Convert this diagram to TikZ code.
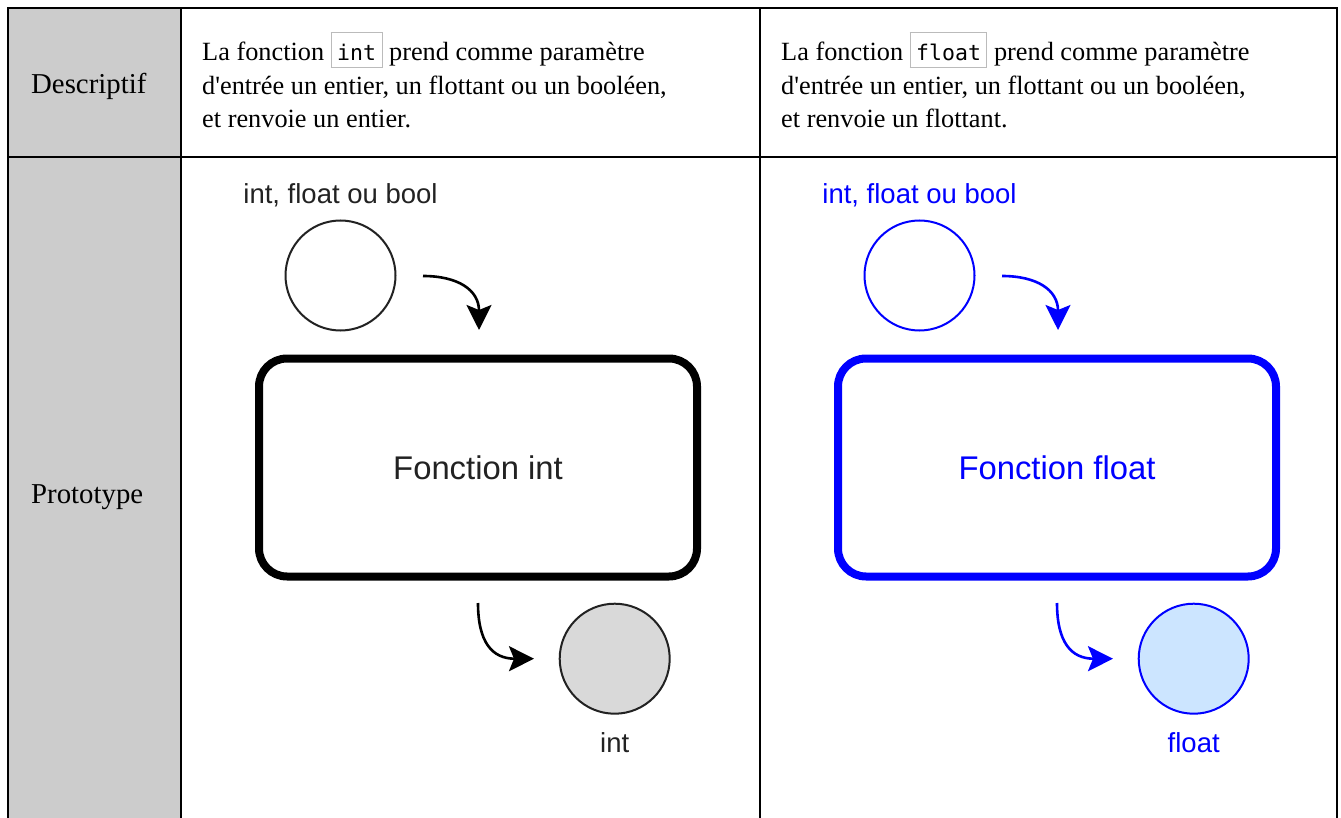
\documentclass[tikz,border=0pt]{standalone}
\usepackage{fontspec}
\setmainfont{Liberation Serif}[Ligatures=TeXOff]
\newfontfamily\diagfont{Liberation Sans}
\newfontfamily\codefont{DejaVu Sans Mono}
\usetikzlibrary{arrows.meta}
\definecolor{hdr}{HTML}{CCCCCC}
\definecolor{boxgray}{HTML}{BBBBBB}
\definecolor{pblue}{HTML}{0000FF}
\definecolor{lblue}{HTML}{CCE5FF}
\definecolor{lgray}{HTML}{D9D9D9}
\definecolor{dtext}{HTML}{222222}
\newcommand{\codebox}[1]{{\setlength{\fboxsep}{5.5pt}\setlength{\fboxrule}{1pt}\fcolorbox{boxgray}{white}{\rule[-1pt]{0pt}{23pt}\codefont\fontsize{21.5}{24}\selectfont #1}}}
\begin{document}
\begin{tikzpicture}[x=1pt,y=-1pt,
  grid/.style={line width=1.3pt, black},
  txt/.style={anchor=base west, inner sep=0pt, font=\fontsize{26.3}{34}\selectfont},
  rowlbl/.style={anchor=base west, inner sep=0pt, font=\fontsize{28.8}{34}\selectfont},
  lbl/.style={anchor=base, inner sep=0pt, font=\diagfont\fontsize{27.5}{30}\selectfont},
  circ/.style={circle, draw, line width=2pt, minimum size=110pt, inner sep=0pt},
  fbox/.style={rectangle, draw, rounded corners=28pt, line width=8pt, minimum width=438pt, minimum height=218pt, inner sep=0pt, font=\diagfont\fontsize{32.8}{36}\selectfont},
  arr/.style={line width=2.6pt, -{Stealth[length=25pt, width=25pt, inset=5pt]}}
]
\useasboundingbox (0,0) rectangle (1341,818);
\fill[white] (0,0) rectangle (1341,818);
% table
\fill[hdr] (8,8) rectangle (181,818);
\draw[grid] (8,818) -- (8,8) -- (1337,8) -- (1337,818);
\draw[grid] (8,157) -- (1337,157);
\draw[grid] (181,8) -- (181,818);
\draw[grid] (760,8) -- (760,818);
% row labels
\node[rowlbl] (rdesc) at (31,94) {Descriptif};
\node[rowlbl] (rproto) at (31,503) {Prototype};
% descriptions
\node[txt] (d1a) at (202,60.7) {La fonction \codebox{int} prend comme paramètre};
\node[txt] (d1b) at (202,94.5) {d'entrée un entier, un flottant ou un booléen,};
\node[txt] (d1c) at (202,128) {et renvoie un entier.};
\node[txt] (d2a) at (781,60.7) {La fonction \codebox{float} prend comme paramètre};
\node[txt] (d2b) at (781,94.5) {d'entrée un entier, un flottant ou un booléen,};
\node[txt] (d2c) at (781,128) {et renvoie un flottant.};
% left diagram
\node[lbl, text=dtext] (inlblL) at (340.5,204) {int, float ou bool};
\node[circ, draw=dtext] (inL) at (340.5,275.5) {};
\node[fbox, text=dtext] (fL) at (478,467.5) {Fonction int};
\node[circ, draw=dtext, fill=lgray] (outL) at (614.7,658.7) {};
\node[lbl, text=dtext] (outlblL) at (614.7,752.5) {int};
\coordinate (a1s) at (423,276);
\coordinate (a1e) at (479,330);
\coordinate (a2s) at (478,603);
\coordinate (a2e) at (534,658.7);
\draw[arr] (a1s) .. controls (458,276) and (479,290) .. (a1e);
\draw[arr] (a2s) .. controls (478,642) and (492,658.7) .. (a2e);
% right diagram
\node[lbl, text=pblue] (inlblR) at (919.5,204) {int, float ou bool};
\node[circ, draw=pblue] (inR) at (919.5,275.5) {};
\node[fbox, draw=pblue, text=pblue] (fR) at (1057,467.5) {Fonction float};
\node[circ, draw=pblue, fill=lblue] (outR) at (1193.7,658.7) {};
\node[lbl, text=pblue] (outlblR) at (1193.7,752.5) {float};
\coordinate (b1s) at (1002,276);
\coordinate (b1e) at (1058,330);
\coordinate (b2s) at (1057,603);
\coordinate (b2e) at (1113,658.7);
\draw[arr, pblue] (b1s) .. controls (1037,276) and (1058,290) .. (b1e);
\draw[arr, pblue] (b2s) .. controls (1057,642) and (1071,658.7) .. (b2e);
\end{tikzpicture}
\end{document}
